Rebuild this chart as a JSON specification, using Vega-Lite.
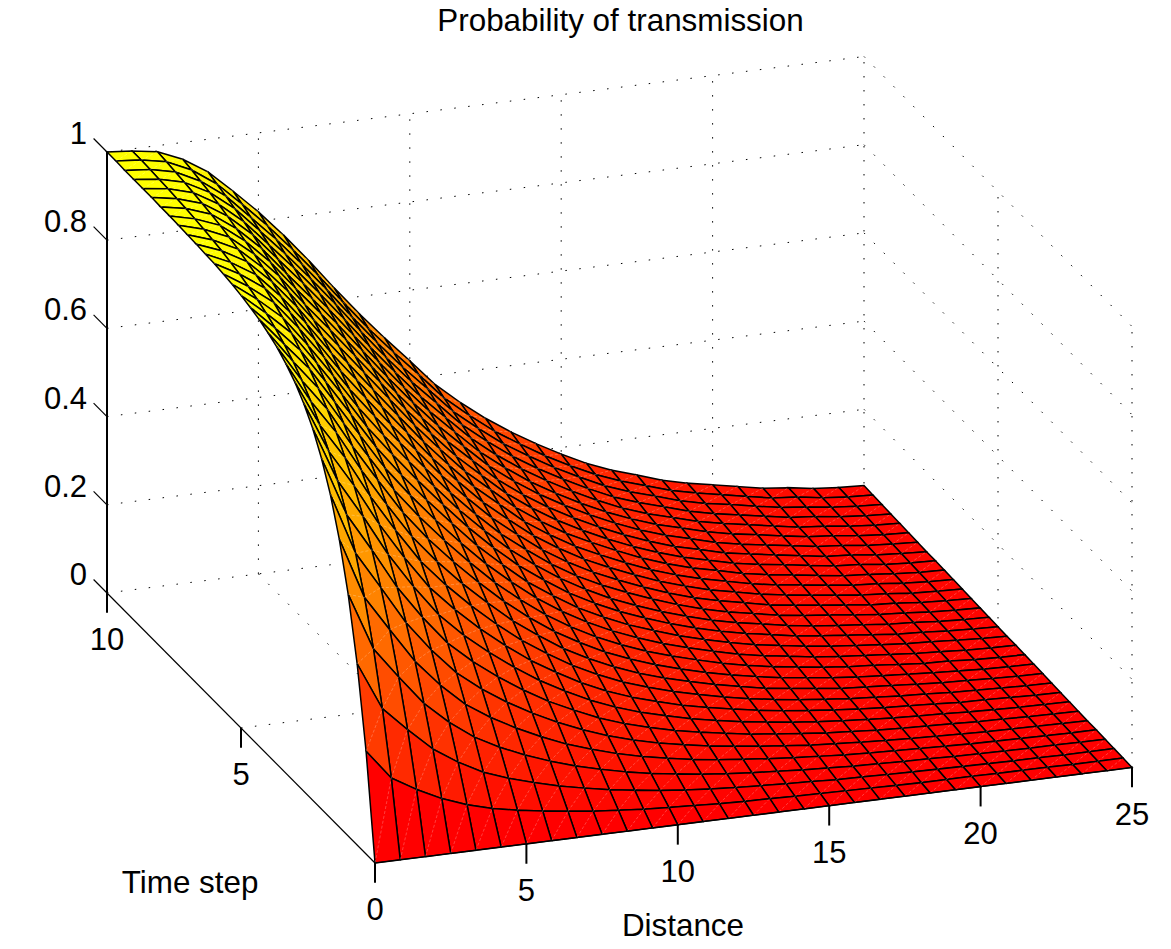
{"$schema":"https://vega.github.io/schema/vega-lite/v6.json","width":1171,"height":949,"padding":0,"autosize":{"type":"none"},"background":"white","view":{"stroke":null},"config":{"view":{"stroke":null}},
"title":{"text":"Probability of transmission","font":"Liberation Sans","fontSize":31.4,"fontWeight":"normal","color":"#000","anchor":"middle","frame":"group","dx":35,"offset":-37},
"datasets":{
"grid":[
{"s":"b0","d":0,"t":10,"p":0},{"s":"b0","d":25,"t":10,"p":0},{"s":"b2","d":0,"t":10,"p":0.2},{"s":"b2","d":25,"t":10,"p":0.2},{"s":"b4","d":0,"t":10,"p":0.4},{"s":"b4","d":25,"t":10,"p":0.4},{"s":"b6","d":0,"t":10,"p":0.6},{"s":"b6","d":25,"t":10,"p":0.6},{"s":"b8","d":0,"t":10,"p":0.8},{"s":"b8","d":25,"t":10,"p":0.8},{"s":"b10","d":0,"t":10,"p":1},{"s":"b10","d":25,"t":10,"p":1},
{"s":"r0","d":25,"t":10,"p":0},{"s":"r0","d":25,"t":0,"p":0},{"s":"r2","d":25,"t":10,"p":0.2},{"s":"r2","d":25,"t":0,"p":0.2},{"s":"r4","d":25,"t":10,"p":0.4},{"s":"r4","d":25,"t":0,"p":0.4},{"s":"r6","d":25,"t":10,"p":0.6},{"s":"r6","d":25,"t":0,"p":0.6},{"s":"r8","d":25,"t":10,"p":0.8},{"s":"r8","d":25,"t":0,"p":0.8},{"s":"r10","d":25,"t":10,"p":1},{"s":"r10","d":25,"t":0,"p":1},
{"s":"v5","d":5,"t":10,"p":0},{"s":"v5","d":5,"t":10,"p":1},{"s":"v10","d":10,"t":10,"p":0},{"s":"v10","d":10,"t":10,"p":1},{"s":"v15","d":15,"t":10,"p":0},{"s":"v15","d":15,"t":10,"p":1},{"s":"v20","d":20,"t":10,"p":0},{"s":"v20","d":20,"t":10,"p":1},{"s":"v25","d":25,"t":10,"p":0},{"s":"v25","d":25,"t":10,"p":1},{"s":"w5","d":25,"t":5,"p":0},{"s":"w5","d":25,"t":5,"p":1},{"s":"w0","d":25,"t":0,"p":0},{"s":"w0","d":25,"t":0,"p":1},
{"s":"f5","d":5,"t":10,"p":0},{"s":"f5","d":5,"t":0,"p":0},{"s":"f10","d":10,"t":10,"p":0},{"s":"f10","d":10,"t":0,"p":0},{"s":"f15","d":15,"t":10,"p":0},{"s":"f15","d":15,"t":0,"p":0},{"s":"f20","d":20,"t":10,"p":0},{"s":"f20","d":20,"t":0,"p":0},{"s":"g5","d":0,"t":5,"p":0},{"s":"g5","d":25,"t":5,"p":0}],
"thin":[
{"s":"ta","d":0,"t":0,"p":0},{"s":"ta","d":0,"t":10.5,"p":0},{"s":"t2","d":0,"t":10,"p":0.2},{"s":"t2","d":0,"t":10.5,"p":0.2},{"s":"t4","d":0,"t":10,"p":0.4},{"s":"t4","d":0,"t":10.5,"p":0.4},{"s":"t6","d":0,"t":10,"p":0.6},{"s":"t6","d":0,"t":10.5,"p":0.6},{"s":"t8","d":0,"t":10,"p":0.8},{"s":"t8","d":0,"t":10.5,"p":0.8},{"s":"t10","d":0,"t":10,"p":1},{"s":"t10","d":0,"t":10.5,"p":1},{"s":"da","d":0,"t":0,"p":0},{"s":"da","d":25,"t":0,"p":0}],
"thick":[
{"s":"pa","d":0,"t":10,"p":1},{"s":"pa","d":0,"t":10,"p":-0.045},{"s":"tk5","d":0,"t":5,"p":0},{"s":"tk5","d":0,"t":5,"p":-0.045},
{"s":"d0","d":0,"t":0,"p":0},{"s":"d0","d":0,"t":0,"p":-0.045},{"s":"d5","d":5,"t":0,"p":0},{"s":"d5","d":5,"t":0,"p":-0.045},{"s":"d10","d":10,"t":0,"p":0},{"s":"d10","d":10,"t":0,"p":-0.045},{"s":"d15","d":15,"t":0,"p":0},{"s":"d15","d":15,"t":0,"p":-0.045},{"s":"d20","d":20,"t":0,"p":0},{"s":"d20","d":20,"t":0,"p":-0.045},{"s":"d25","d":25,"t":0,"p":0},{"s":"d25","d":25,"t":0,"p":-0.045}],
"plabels":[{"label":"0","d":0,"t":10,"p":0},{"label":"0.2","d":0,"t":10,"p":0.2},{"label":"0.4","d":0,"t":10,"p":0.4},{"label":"0.6","d":0,"t":10,"p":0.6},{"label":"0.8","d":0,"t":10,"p":0.8},{"label":"1","d":0,"t":10,"p":1}],
"blabels":[{"label":"5","d":0,"t":5,"p":0},{"label":"10","d":0,"t":10,"p":0},{"label":"0","d":0,"t":0,"p":0},{"label":"5","d":5,"t":0,"p":0},{"label":"10","d":10,"t":0,"p":0},{"label":"15","d":15,"t":0,"p":0},{"label":"20","d":20,"t":0,"p":0},{"label":"25","d":25,"t":0,"p":0}],
"atitles":[{"label":"Time step","d":0,"t":6.9,"p":-0.47},{"label":"Distance","d":10.17,"t":0,"p":-0.2335}],
"mesh":[
{"i":30,"j":30,"p":0.027},{"i":30,"j":29,"p":0.026},{"i":30,"j":28,"p":0.025},{"i":30,"j":27,"p":0.024},{"i":30,"j":26,"p":0.023},{"i":30,"j":25,"p":0.022},{"i":30,"j":24,"p":0.021},{"i":30,"j":23,"p":0.02},{"i":30,"j":22,"p":0.02},{"i":30,"j":21,"p":0.019},{"i":30,"j":20,"p":0.018},{"i":30,"j":19,"p":0.017},{"i":30,"j":18,"p":0.016},{"i":30,"j":17,"p":0.015},{"i":30,"j":16,"p":0.014},{"i":30,"j":15,"p":0.013},{"i":30,"j":14,"p":0.012},{"i":30,"j":13,"p":0.012},{"i":30,"j":12,"p":0.011},{"i":30,"j":11,"p":0.01},{"i":30,"j":10,"p":0.009},{"i":30,"j":9,"p":0.008},{"i":30,"j":8,"p":0.007},{"i":30,"j":7,"p":0.006},{"i":30,"j":6,"p":0.005},{"i":30,"j":5,"p":0.004},{"i":30,"j":4,"p":0.004},{"i":30,"j":3,"p":0.003},{"i":30,"j":2,"p":0.002},{"i":30,"j":1,"p":0.001},{"i":30,"j":0,"p":0},
{"i":29,"j":30,"p":0.03},{"i":29,"j":29,"p":0.029},{"i":29,"j":28,"p":0.028},{"i":29,"j":27,"p":0.027},{"i":29,"j":26,"p":0.026},{"i":29,"j":25,"p":0.025},{"i":29,"j":24,"p":0.024},{"i":29,"j":23,"p":0.023},{"i":29,"j":22,"p":0.022},{"i":29,"j":21,"p":0.021},{"i":29,"j":20,"p":0.02},{"i":29,"j":19,"p":0.019},{"i":29,"j":18,"p":0.018},{"i":29,"j":17,"p":0.017},{"i":29,"j":16,"p":0.016},{"i":29,"j":15,"p":0.015},{"i":29,"j":14,"p":0.014},{"i":29,"j":13,"p":0.013},{"i":29,"j":12,"p":0.012},{"i":29,"j":11,"p":0.011},{"i":29,"j":10,"p":0.01},{"i":29,"j":9,"p":0.009},{"i":29,"j":8,"p":0.008},{"i":29,"j":7,"p":0.007},{"i":29,"j":6,"p":0.006},{"i":29,"j":5,"p":0.005},{"i":29,"j":4,"p":0.004},{"i":29,"j":3,"p":0.003},{"i":29,"j":2,"p":0.002},{"i":29,"j":1,"p":0.001},{"i":29,"j":0,"p":0},
{"i":28,"j":30,"p":0.035},{"i":28,"j":29,"p":0.034},{"i":28,"j":28,"p":0.033},{"i":28,"j":27,"p":0.032},{"i":28,"j":26,"p":0.031},{"i":28,"j":25,"p":0.03},{"i":28,"j":24,"p":0.028},{"i":28,"j":23,"p":0.027},{"i":28,"j":22,"p":0.026},{"i":28,"j":21,"p":0.025},{"i":28,"j":20,"p":0.024},{"i":28,"j":19,"p":0.022},{"i":28,"j":18,"p":0.021},{"i":28,"j":17,"p":0.02},{"i":28,"j":16,"p":0.019},{"i":28,"j":15,"p":0.018},{"i":28,"j":14,"p":0.017},{"i":28,"j":13,"p":0.015},{"i":28,"j":12,"p":0.014},{"i":28,"j":11,"p":0.013},{"i":28,"j":10,"p":0.012},{"i":28,"j":9,"p":0.011},{"i":28,"j":8,"p":0.01},{"i":28,"j":7,"p":0.008},{"i":28,"j":6,"p":0.007},{"i":28,"j":5,"p":0.006},{"i":28,"j":4,"p":0.005},{"i":28,"j":3,"p":0.004},{"i":28,"j":2,"p":0.002},{"i":28,"j":1,"p":0.001},{"i":28,"j":0,"p":0},
{"i":27,"j":30,"p":0.044},{"i":27,"j":29,"p":0.043},{"i":27,"j":28,"p":0.041},{"i":27,"j":27,"p":0.04},{"i":27,"j":26,"p":0.038},{"i":27,"j":25,"p":0.037},{"i":27,"j":24,"p":0.035},{"i":27,"j":23,"p":0.034},{"i":27,"j":22,"p":0.033},{"i":27,"j":21,"p":0.031},{"i":27,"j":20,"p":0.03},{"i":27,"j":19,"p":0.028},{"i":27,"j":18,"p":0.027},{"i":27,"j":17,"p":0.025},{"i":27,"j":16,"p":0.024},{"i":27,"j":15,"p":0.022},{"i":27,"j":14,"p":0.021},{"i":27,"j":13,"p":0.019},{"i":27,"j":12,"p":0.018},{"i":27,"j":11,"p":0.016},{"i":27,"j":10,"p":0.015},{"i":27,"j":9,"p":0.013},{"i":27,"j":8,"p":0.012},{"i":27,"j":7,"p":0.01},{"i":27,"j":6,"p":0.009},{"i":27,"j":5,"p":0.007},{"i":27,"j":4,"p":0.006},{"i":27,"j":3,"p":0.004},{"i":27,"j":2,"p":0.003},{"i":27,"j":1,"p":0.002},{"i":27,"j":0,"p":0},
{"i":26,"j":30,"p":0.05},{"i":26,"j":29,"p":0.048},{"i":26,"j":28,"p":0.047},{"i":26,"j":27,"p":0.045},{"i":26,"j":26,"p":0.043},{"i":26,"j":25,"p":0.042},{"i":26,"j":24,"p":0.04},{"i":26,"j":23,"p":0.038},{"i":26,"j":22,"p":0.037},{"i":26,"j":21,"p":0.035},{"i":26,"j":20,"p":0.034},{"i":26,"j":19,"p":0.032},{"i":26,"j":18,"p":0.03},{"i":26,"j":17,"p":0.029},{"i":26,"j":16,"p":0.027},{"i":26,"j":15,"p":0.025},{"i":26,"j":14,"p":0.024},{"i":26,"j":13,"p":0.022},{"i":26,"j":12,"p":0.02},{"i":26,"j":11,"p":0.019},{"i":26,"j":10,"p":0.017},{"i":26,"j":9,"p":0.015},{"i":26,"j":8,"p":0.013},{"i":26,"j":7,"p":0.012},{"i":26,"j":6,"p":0.01},{"i":26,"j":5,"p":0.008},{"i":26,"j":4,"p":0.007},{"i":26,"j":3,"p":0.005},{"i":26,"j":2,"p":0.003},{"i":26,"j":1,"p":0.002},{"i":26,"j":0,"p":0},
{"i":25,"j":30,"p":0.061},{"i":25,"j":29,"p":0.059},{"i":25,"j":28,"p":0.057},{"i":25,"j":27,"p":0.055},{"i":25,"j":26,"p":0.053},{"i":25,"j":25,"p":0.051},{"i":25,"j":24,"p":0.049},{"i":25,"j":23,"p":0.047},{"i":25,"j":22,"p":0.045},{"i":25,"j":21,"p":0.043},{"i":25,"j":20,"p":0.041},{"i":25,"j":19,"p":0.039},{"i":25,"j":18,"p":0.037},{"i":25,"j":17,"p":0.035},{"i":25,"j":16,"p":0.033},{"i":25,"j":15,"p":0.031},{"i":25,"j":14,"p":0.029},{"i":25,"j":13,"p":0.027},{"i":25,"j":12,"p":0.025},{"i":25,"j":11,"p":0.023},{"i":25,"j":10,"p":0.021},{"i":25,"j":9,"p":0.019},{"i":25,"j":8,"p":0.017},{"i":25,"j":7,"p":0.015},{"i":25,"j":6,"p":0.013},{"i":25,"j":5,"p":0.01},{"i":25,"j":4,"p":0.008},{"i":25,"j":3,"p":0.006},{"i":25,"j":2,"p":0.004},{"i":25,"j":1,"p":0.002},{"i":25,"j":0,"p":0},
{"i":24,"j":30,"p":0.072},{"i":24,"j":29,"p":0.07},{"i":24,"j":28,"p":0.068},{"i":24,"j":27,"p":0.065},{"i":24,"j":26,"p":0.063},{"i":24,"j":25,"p":0.061},{"i":24,"j":24,"p":0.058},{"i":24,"j":23,"p":0.056},{"i":24,"j":22,"p":0.054},{"i":24,"j":21,"p":0.051},{"i":24,"j":20,"p":0.049},{"i":24,"j":19,"p":0.046},{"i":24,"j":18,"p":0.044},{"i":24,"j":17,"p":0.042},{"i":24,"j":16,"p":0.039},{"i":24,"j":15,"p":0.037},{"i":24,"j":14,"p":0.034},{"i":24,"j":13,"p":0.032},{"i":24,"j":12,"p":0.03},{"i":24,"j":11,"p":0.027},{"i":24,"j":10,"p":0.025},{"i":24,"j":9,"p":0.022},{"i":24,"j":8,"p":0.02},{"i":24,"j":7,"p":0.017},{"i":24,"j":6,"p":0.015},{"i":24,"j":5,"p":0.012},{"i":24,"j":4,"p":0.01},{"i":24,"j":3,"p":0.007},{"i":24,"j":2,"p":0.005},{"i":24,"j":1,"p":0.003},{"i":24,"j":0,"p":0},
{"i":23,"j":30,"p":0.083},{"i":23,"j":29,"p":0.081},{"i":23,"j":28,"p":0.078},{"i":23,"j":27,"p":0.075},{"i":23,"j":26,"p":0.073},{"i":23,"j":25,"p":0.07},{"i":23,"j":24,"p":0.067},{"i":23,"j":23,"p":0.065},{"i":23,"j":22,"p":0.062},{"i":23,"j":21,"p":0.059},{"i":23,"j":20,"p":0.056},{"i":23,"j":19,"p":0.054},{"i":23,"j":18,"p":0.051},{"i":23,"j":17,"p":0.048},{"i":23,"j":16,"p":0.045},{"i":23,"j":15,"p":0.043},{"i":23,"j":14,"p":0.04},{"i":23,"j":13,"p":0.037},{"i":23,"j":12,"p":0.034},{"i":23,"j":11,"p":0.031},{"i":23,"j":10,"p":0.029},{"i":23,"j":9,"p":0.026},{"i":23,"j":8,"p":0.023},{"i":23,"j":7,"p":0.02},{"i":23,"j":6,"p":0.017},{"i":23,"j":5,"p":0.014},{"i":23,"j":4,"p":0.012},{"i":23,"j":3,"p":0.009},{"i":23,"j":2,"p":0.006},{"i":23,"j":1,"p":0.003},{"i":23,"j":0,"p":0},
{"i":22,"j":30,"p":0.097},{"i":22,"j":29,"p":0.094},{"i":22,"j":28,"p":0.091},{"i":22,"j":27,"p":0.088},{"i":22,"j":26,"p":0.085},{"i":22,"j":25,"p":0.082},{"i":22,"j":24,"p":0.078},{"i":22,"j":23,"p":0.075},{"i":22,"j":22,"p":0.072},{"i":22,"j":21,"p":0.069},{"i":22,"j":20,"p":0.066},{"i":22,"j":19,"p":0.063},{"i":22,"j":18,"p":0.059},{"i":22,"j":17,"p":0.056},{"i":22,"j":16,"p":0.053},{"i":22,"j":15,"p":0.05},{"i":22,"j":14,"p":0.047},{"i":22,"j":13,"p":0.043},{"i":22,"j":12,"p":0.04},{"i":22,"j":11,"p":0.037},{"i":22,"j":10,"p":0.033},{"i":22,"j":9,"p":0.03},{"i":22,"j":8,"p":0.027},{"i":22,"j":7,"p":0.024},{"i":22,"j":6,"p":0.02},{"i":22,"j":5,"p":0.017},{"i":22,"j":4,"p":0.014},{"i":22,"j":3,"p":0.01},{"i":22,"j":2,"p":0.007},{"i":22,"j":1,"p":0.003},{"i":22,"j":0,"p":0},
{"i":21,"j":30,"p":0.116},{"i":21,"j":29,"p":0.112},{"i":21,"j":28,"p":0.109},{"i":21,"j":27,"p":0.105},{"i":21,"j":26,"p":0.101},{"i":21,"j":25,"p":0.098},{"i":21,"j":24,"p":0.094},{"i":21,"j":23,"p":0.09},{"i":21,"j":22,"p":0.086},{"i":21,"j":21,"p":0.083},{"i":21,"j":20,"p":0.079},{"i":21,"j":19,"p":0.075},{"i":21,"j":18,"p":0.071},{"i":21,"j":17,"p":0.067},{"i":21,"j":16,"p":0.064},{"i":21,"j":15,"p":0.06},{"i":21,"j":14,"p":0.056},{"i":21,"j":13,"p":0.052},{"i":21,"j":12,"p":0.048},{"i":21,"j":11,"p":0.044},{"i":21,"j":10,"p":0.04},{"i":21,"j":9,"p":0.036},{"i":21,"j":8,"p":0.032},{"i":21,"j":7,"p":0.028},{"i":21,"j":6,"p":0.024},{"i":21,"j":5,"p":0.02},{"i":21,"j":4,"p":0.016},{"i":21,"j":3,"p":0.012},{"i":21,"j":2,"p":0.008},{"i":21,"j":1,"p":0.004},{"i":21,"j":0,"p":0},
{"i":20,"j":30,"p":0.134},{"i":20,"j":29,"p":0.13},{"i":20,"j":28,"p":0.126},{"i":20,"j":27,"p":0.122},{"i":20,"j":26,"p":0.117},{"i":20,"j":25,"p":0.113},{"i":20,"j":24,"p":0.109},{"i":20,"j":23,"p":0.104},{"i":20,"j":22,"p":0.1},{"i":20,"j":21,"p":0.096},{"i":20,"j":20,"p":0.092},{"i":20,"j":19,"p":0.087},{"i":20,"j":18,"p":0.083},{"i":20,"j":17,"p":0.078},{"i":20,"j":16,"p":0.074},{"i":20,"j":15,"p":0.07},{"i":20,"j":14,"p":0.065},{"i":20,"j":13,"p":0.06},{"i":20,"j":12,"p":0.056},{"i":20,"j":11,"p":0.051},{"i":20,"j":10,"p":0.047},{"i":20,"j":9,"p":0.042},{"i":20,"j":8,"p":0.038},{"i":20,"j":7,"p":0.033},{"i":20,"j":6,"p":0.028},{"i":20,"j":5,"p":0.024},{"i":20,"j":4,"p":0.019},{"i":20,"j":3,"p":0.014},{"i":20,"j":2,"p":0.01},{"i":20,"j":1,"p":0.005},{"i":20,"j":0,"p":0},
{"i":19,"j":30,"p":0.157},{"i":19,"j":29,"p":0.152},{"i":19,"j":28,"p":0.147},{"i":19,"j":27,"p":0.142},{"i":19,"j":26,"p":0.137},{"i":19,"j":25,"p":0.133},{"i":19,"j":24,"p":0.128},{"i":19,"j":23,"p":0.123},{"i":19,"j":22,"p":0.118},{"i":19,"j":21,"p":0.113},{"i":19,"j":20,"p":0.108},{"i":19,"j":19,"p":0.103},{"i":19,"j":18,"p":0.097},{"i":19,"j":17,"p":0.092},{"i":19,"j":16,"p":0.087},{"i":19,"j":15,"p":0.082},{"i":19,"j":14,"p":0.077},{"i":19,"j":13,"p":0.071},{"i":19,"j":12,"p":0.066},{"i":19,"j":11,"p":0.061},{"i":19,"j":10,"p":0.055},{"i":19,"j":9,"p":0.05},{"i":19,"j":8,"p":0.045},{"i":19,"j":7,"p":0.039},{"i":19,"j":6,"p":0.034},{"i":19,"j":5,"p":0.028},{"i":19,"j":4,"p":0.023},{"i":19,"j":3,"p":0.017},{"i":19,"j":2,"p":0.011},{"i":19,"j":1,"p":0.006},{"i":19,"j":0,"p":0},
{"i":18,"j":30,"p":0.185},{"i":18,"j":29,"p":0.179},{"i":18,"j":28,"p":0.174},{"i":18,"j":27,"p":0.168},{"i":18,"j":26,"p":0.162},{"i":18,"j":25,"p":0.156},{"i":18,"j":24,"p":0.151},{"i":18,"j":23,"p":0.145},{"i":18,"j":22,"p":0.139},{"i":18,"j":21,"p":0.133},{"i":18,"j":20,"p":0.127},{"i":18,"j":19,"p":0.121},{"i":18,"j":18,"p":0.115},{"i":18,"j":17,"p":0.109},{"i":18,"j":16,"p":0.103},{"i":18,"j":15,"p":0.097},{"i":18,"j":14,"p":0.091},{"i":18,"j":13,"p":0.085},{"i":18,"j":12,"p":0.078},{"i":18,"j":11,"p":0.072},{"i":18,"j":10,"p":0.066},{"i":18,"j":9,"p":0.059},{"i":18,"j":8,"p":0.053},{"i":18,"j":7,"p":0.047},{"i":18,"j":6,"p":0.04},{"i":18,"j":5,"p":0.034},{"i":18,"j":4,"p":0.027},{"i":18,"j":3,"p":0.02},{"i":18,"j":2,"p":0.014},{"i":18,"j":1,"p":0.007},{"i":18,"j":0,"p":0},
{"i":17,"j":30,"p":0.216},{"i":17,"j":29,"p":0.209},{"i":17,"j":28,"p":0.203},{"i":17,"j":27,"p":0.197},{"i":17,"j":26,"p":0.19},{"i":17,"j":25,"p":0.183},{"i":17,"j":24,"p":0.177},{"i":17,"j":23,"p":0.17},{"i":17,"j":22,"p":0.163},{"i":17,"j":21,"p":0.157},{"i":17,"j":20,"p":0.15},{"i":17,"j":19,"p":0.143},{"i":17,"j":18,"p":0.136},{"i":17,"j":17,"p":0.129},{"i":17,"j":16,"p":0.121},{"i":17,"j":15,"p":0.114},{"i":17,"j":14,"p":0.107},{"i":17,"j":13,"p":0.1},{"i":17,"j":12,"p":0.093},{"i":17,"j":11,"p":0.085},{"i":17,"j":10,"p":0.078},{"i":17,"j":9,"p":0.07},{"i":17,"j":8,"p":0.063},{"i":17,"j":7,"p":0.055},{"i":17,"j":6,"p":0.047},{"i":17,"j":5,"p":0.04},{"i":17,"j":4,"p":0.032},{"i":17,"j":3,"p":0.024},{"i":17,"j":2,"p":0.016},{"i":17,"j":1,"p":0.008},{"i":17,"j":0,"p":0},
{"i":16,"j":30,"p":0.25},{"i":16,"j":29,"p":0.243},{"i":16,"j":28,"p":0.236},{"i":16,"j":27,"p":0.228},{"i":16,"j":26,"p":0.221},{"i":16,"j":25,"p":0.213},{"i":16,"j":24,"p":0.206},{"i":16,"j":23,"p":0.198},{"i":16,"j":22,"p":0.19},{"i":16,"j":21,"p":0.183},{"i":16,"j":20,"p":0.175},{"i":16,"j":19,"p":0.167},{"i":16,"j":18,"p":0.159},{"i":16,"j":17,"p":0.151},{"i":16,"j":16,"p":0.142},{"i":16,"j":15,"p":0.134},{"i":16,"j":14,"p":0.126},{"i":16,"j":13,"p":0.117},{"i":16,"j":12,"p":0.109},{"i":16,"j":11,"p":0.1},{"i":16,"j":10,"p":0.092},{"i":16,"j":9,"p":0.083},{"i":16,"j":8,"p":0.074},{"i":16,"j":7,"p":0.065},{"i":16,"j":6,"p":0.056},{"i":16,"j":5,"p":0.047},{"i":16,"j":4,"p":0.038},{"i":16,"j":3,"p":0.028},{"i":16,"j":2,"p":0.019},{"i":16,"j":1,"p":0.01},{"i":16,"j":0,"p":0},
{"i":15,"j":30,"p":0.288},{"i":15,"j":29,"p":0.279},{"i":15,"j":28,"p":0.271},{"i":15,"j":27,"p":0.263},{"i":15,"j":26,"p":0.255},{"i":15,"j":25,"p":0.246},{"i":15,"j":24,"p":0.238},{"i":15,"j":23,"p":0.229},{"i":15,"j":22,"p":0.22},{"i":15,"j":21,"p":0.211},{"i":15,"j":20,"p":0.202},{"i":15,"j":19,"p":0.193},{"i":15,"j":18,"p":0.184},{"i":15,"j":17,"p":0.175},{"i":15,"j":16,"p":0.165},{"i":15,"j":15,"p":0.156},{"i":15,"j":14,"p":0.146},{"i":15,"j":13,"p":0.137},{"i":15,"j":12,"p":0.127},{"i":15,"j":11,"p":0.117},{"i":15,"j":10,"p":0.107},{"i":15,"j":9,"p":0.097},{"i":15,"j":8,"p":0.086},{"i":15,"j":7,"p":0.076},{"i":15,"j":6,"p":0.066},{"i":15,"j":5,"p":0.055},{"i":15,"j":4,"p":0.044},{"i":15,"j":3,"p":0.033},{"i":15,"j":2,"p":0.022},{"i":15,"j":1,"p":0.011},{"i":15,"j":0,"p":0},
{"i":14,"j":30,"p":0.331},{"i":14,"j":29,"p":0.322},{"i":14,"j":28,"p":0.313},{"i":14,"j":27,"p":0.304},{"i":14,"j":26,"p":0.294},{"i":14,"j":25,"p":0.285},{"i":14,"j":24,"p":0.275},{"i":14,"j":23,"p":0.265},{"i":14,"j":22,"p":0.255},{"i":14,"j":21,"p":0.245},{"i":14,"j":20,"p":0.235},{"i":14,"j":19,"p":0.225},{"i":14,"j":18,"p":0.214},{"i":14,"j":17,"p":0.203},{"i":14,"j":16,"p":0.193},{"i":14,"j":15,"p":0.182},{"i":14,"j":14,"p":0.171},{"i":14,"j":13,"p":0.16},{"i":14,"j":12,"p":0.149},{"i":14,"j":11,"p":0.137},{"i":14,"j":10,"p":0.125},{"i":14,"j":9,"p":0.114},{"i":14,"j":8,"p":0.102},{"i":14,"j":7,"p":0.09},{"i":14,"j":6,"p":0.077},{"i":14,"j":5,"p":0.065},{"i":14,"j":4,"p":0.052},{"i":14,"j":3,"p":0.039},{"i":14,"j":2,"p":0.026},{"i":14,"j":1,"p":0.013},{"i":14,"j":0,"p":0},
{"i":13,"j":30,"p":0.379},{"i":13,"j":29,"p":0.369},{"i":13,"j":28,"p":0.359},{"i":13,"j":27,"p":0.349},{"i":13,"j":26,"p":0.339},{"i":13,"j":25,"p":0.328},{"i":13,"j":24,"p":0.317},{"i":13,"j":23,"p":0.306},{"i":13,"j":22,"p":0.295},{"i":13,"j":21,"p":0.284},{"i":13,"j":20,"p":0.272},{"i":13,"j":19,"p":0.261},{"i":13,"j":18,"p":0.249},{"i":13,"j":17,"p":0.237},{"i":13,"j":16,"p":0.225},{"i":13,"j":15,"p":0.212},{"i":13,"j":14,"p":0.199},{"i":13,"j":13,"p":0.187},{"i":13,"j":12,"p":0.174},{"i":13,"j":11,"p":0.16},{"i":13,"j":10,"p":0.147},{"i":13,"j":9,"p":0.133},{"i":13,"j":8,"p":0.119},{"i":13,"j":7,"p":0.105},{"i":13,"j":6,"p":0.091},{"i":13,"j":5,"p":0.076},{"i":13,"j":4,"p":0.062},{"i":13,"j":3,"p":0.047},{"i":13,"j":2,"p":0.031},{"i":13,"j":1,"p":0.016},{"i":13,"j":0,"p":0},
{"i":12,"j":30,"p":0.44},{"i":12,"j":29,"p":0.429},{"i":12,"j":28,"p":0.417},{"i":12,"j":27,"p":0.405},{"i":12,"j":26,"p":0.393},{"i":12,"j":25,"p":0.381},{"i":12,"j":24,"p":0.369},{"i":12,"j":23,"p":0.357},{"i":12,"j":22,"p":0.344},{"i":12,"j":21,"p":0.332},{"i":12,"j":20,"p":0.319},{"i":12,"j":19,"p":0.305},{"i":12,"j":18,"p":0.291},{"i":12,"j":17,"p":0.277},{"i":12,"j":16,"p":0.263},{"i":12,"j":15,"p":0.249},{"i":12,"j":14,"p":0.234},{"i":12,"j":13,"p":0.219},{"i":12,"j":12,"p":0.204},{"i":12,"j":11,"p":0.189},{"i":12,"j":10,"p":0.173},{"i":12,"j":9,"p":0.157},{"i":12,"j":8,"p":0.14},{"i":12,"j":7,"p":0.124},{"i":12,"j":6,"p":0.107},{"i":12,"j":5,"p":0.09},{"i":12,"j":4,"p":0.073},{"i":12,"j":3,"p":0.055},{"i":12,"j":2,"p":0.037},{"i":12,"j":1,"p":0.019},{"i":12,"j":0,"p":0},
{"i":11,"j":30,"p":0.499},{"i":11,"j":29,"p":0.487},{"i":11,"j":28,"p":0.474},{"i":11,"j":27,"p":0.461},{"i":11,"j":26,"p":0.448},{"i":11,"j":25,"p":0.435},{"i":11,"j":24,"p":0.422},{"i":11,"j":23,"p":0.408},{"i":11,"j":22,"p":0.394},{"i":11,"j":21,"p":0.38},{"i":11,"j":20,"p":0.366},{"i":11,"j":19,"p":0.351},{"i":11,"j":18,"p":0.336},{"i":11,"j":17,"p":0.32},{"i":11,"j":16,"p":0.305},{"i":11,"j":15,"p":0.289},{"i":11,"j":14,"p":0.272},{"i":11,"j":13,"p":0.256},{"i":11,"j":12,"p":0.239},{"i":11,"j":11,"p":0.221},{"i":11,"j":10,"p":0.203},{"i":11,"j":9,"p":0.185},{"i":11,"j":8,"p":0.166},{"i":11,"j":7,"p":0.147},{"i":11,"j":6,"p":0.127},{"i":11,"j":5,"p":0.107},{"i":11,"j":4,"p":0.087},{"i":11,"j":3,"p":0.066},{"i":11,"j":2,"p":0.045},{"i":11,"j":1,"p":0.022},{"i":11,"j":0,"p":0},
{"i":10,"j":30,"p":0.561},{"i":10,"j":29,"p":0.548},{"i":10,"j":28,"p":0.536},{"i":10,"j":27,"p":0.523},{"i":10,"j":26,"p":0.51},{"i":10,"j":25,"p":0.496},{"i":10,"j":24,"p":0.482},{"i":10,"j":23,"p":0.468},{"i":10,"j":22,"p":0.453},{"i":10,"j":21,"p":0.438},{"i":10,"j":20,"p":0.422},{"i":10,"j":19,"p":0.406},{"i":10,"j":18,"p":0.389},{"i":10,"j":17,"p":0.372},{"i":10,"j":16,"p":0.355},{"i":10,"j":15,"p":0.337},{"i":10,"j":14,"p":0.319},{"i":10,"j":13,"p":0.3},{"i":10,"j":12,"p":0.28},{"i":10,"j":11,"p":0.26},{"i":10,"j":10,"p":0.24},{"i":10,"j":9,"p":0.219},{"i":10,"j":8,"p":0.197},{"i":10,"j":7,"p":0.175},{"i":10,"j":6,"p":0.152},{"i":10,"j":5,"p":0.128},{"i":10,"j":4,"p":0.104},{"i":10,"j":3,"p":0.079},{"i":10,"j":2,"p":0.053},{"i":10,"j":1,"p":0.027},{"i":10,"j":0,"p":0},
{"i":9,"j":30,"p":0.627},{"i":9,"j":29,"p":0.615},{"i":9,"j":28,"p":0.602},{"i":9,"j":27,"p":0.589},{"i":9,"j":26,"p":0.575},{"i":9,"j":25,"p":0.561},{"i":9,"j":24,"p":0.546},{"i":9,"j":23,"p":0.531},{"i":9,"j":22,"p":0.515},{"i":9,"j":21,"p":0.499},{"i":9,"j":20,"p":0.482},{"i":9,"j":19,"p":0.465},{"i":9,"j":18,"p":0.447},{"i":9,"j":17,"p":0.428},{"i":9,"j":16,"p":0.409},{"i":9,"j":15,"p":0.39},{"i":9,"j":14,"p":0.369},{"i":9,"j":13,"p":0.348},{"i":9,"j":12,"p":0.326},{"i":9,"j":11,"p":0.304},{"i":9,"j":10,"p":0.28},{"i":9,"j":9,"p":0.256},{"i":9,"j":8,"p":0.231},{"i":9,"j":7,"p":0.206},{"i":9,"j":6,"p":0.179},{"i":9,"j":5,"p":0.152},{"i":9,"j":4,"p":0.123},{"i":9,"j":3,"p":0.094},{"i":9,"j":2,"p":0.064},{"i":9,"j":1,"p":0.032},{"i":9,"j":0,"p":0},
{"i":8,"j":30,"p":0.696},{"i":8,"j":29,"p":0.684},{"i":8,"j":28,"p":0.671},{"i":8,"j":27,"p":0.658},{"i":8,"j":26,"p":0.644},{"i":8,"j":25,"p":0.629},{"i":8,"j":24,"p":0.614},{"i":8,"j":23,"p":0.599},{"i":8,"j":22,"p":0.583},{"i":8,"j":21,"p":0.566},{"i":8,"j":20,"p":0.548},{"i":8,"j":19,"p":0.53},{"i":8,"j":18,"p":0.511},{"i":8,"j":17,"p":0.491},{"i":8,"j":16,"p":0.47},{"i":8,"j":15,"p":0.449},{"i":8,"j":14,"p":0.427},{"i":8,"j":13,"p":0.403},{"i":8,"j":12,"p":0.379},{"i":8,"j":11,"p":0.354},{"i":8,"j":10,"p":0.328},{"i":8,"j":9,"p":0.3},{"i":8,"j":8,"p":0.272},{"i":8,"j":7,"p":0.243},{"i":8,"j":6,"p":0.212},{"i":8,"j":5,"p":0.18},{"i":8,"j":4,"p":0.147},{"i":8,"j":3,"p":0.112},{"i":8,"j":2,"p":0.076},{"i":8,"j":1,"p":0.039},{"i":8,"j":0,"p":0},
{"i":7,"j":30,"p":0.761},{"i":7,"j":29,"p":0.749},{"i":7,"j":28,"p":0.737},{"i":7,"j":27,"p":0.724},{"i":7,"j":26,"p":0.711},{"i":7,"j":25,"p":0.696},{"i":7,"j":24,"p":0.682},{"i":7,"j":23,"p":0.666},{"i":7,"j":22,"p":0.65},{"i":7,"j":21,"p":0.633},{"i":7,"j":20,"p":0.615},{"i":7,"j":19,"p":0.596},{"i":7,"j":18,"p":0.576},{"i":7,"j":17,"p":0.556},{"i":7,"j":16,"p":0.534},{"i":7,"j":15,"p":0.511},{"i":7,"j":14,"p":0.487},{"i":7,"j":13,"p":0.462},{"i":7,"j":12,"p":0.436},{"i":7,"j":11,"p":0.408},{"i":7,"j":10,"p":0.379},{"i":7,"j":9,"p":0.349},{"i":7,"j":8,"p":0.317},{"i":7,"j":7,"p":0.284},{"i":7,"j":6,"p":0.249},{"i":7,"j":5,"p":0.212},{"i":7,"j":4,"p":0.174},{"i":7,"j":3,"p":0.133},{"i":7,"j":2,"p":0.091},{"i":7,"j":1,"p":0.047},{"i":7,"j":0,"p":0},
{"i":6,"j":30,"p":0.821},{"i":6,"j":29,"p":0.81},{"i":6,"j":28,"p":0.799},{"i":6,"j":27,"p":0.787},{"i":6,"j":26,"p":0.775},{"i":6,"j":25,"p":0.761},{"i":6,"j":24,"p":0.747},{"i":6,"j":23,"p":0.733},{"i":6,"j":22,"p":0.717},{"i":6,"j":21,"p":0.7},{"i":6,"j":20,"p":0.682},{"i":6,"j":19,"p":0.664},{"i":6,"j":18,"p":0.644},{"i":6,"j":17,"p":0.623},{"i":6,"j":16,"p":0.6},{"i":6,"j":15,"p":0.577},{"i":6,"j":14,"p":0.551},{"i":6,"j":13,"p":0.525},{"i":6,"j":12,"p":0.497},{"i":6,"j":11,"p":0.467},{"i":6,"j":10,"p":0.436},{"i":6,"j":9,"p":0.403},{"i":6,"j":8,"p":0.368},{"i":6,"j":7,"p":0.33},{"i":6,"j":6,"p":0.291},{"i":6,"j":5,"p":0.249},{"i":6,"j":4,"p":0.205},{"i":6,"j":3,"p":0.158},{"i":6,"j":2,"p":0.108},{"i":6,"j":1,"p":0.056},{"i":6,"j":0,"p":0},
{"i":5,"j":30,"p":0.875},{"i":5,"j":29,"p":0.866},{"i":5,"j":28,"p":0.856},{"i":5,"j":27,"p":0.846},{"i":5,"j":26,"p":0.835},{"i":5,"j":25,"p":0.823},{"i":5,"j":24,"p":0.81},{"i":5,"j":23,"p":0.797},{"i":5,"j":22,"p":0.782},{"i":5,"j":21,"p":0.767},{"i":5,"j":20,"p":0.75},{"i":5,"j":19,"p":0.732},{"i":5,"j":18,"p":0.713},{"i":5,"j":17,"p":0.692},{"i":5,"j":16,"p":0.67},{"i":5,"j":15,"p":0.646},{"i":5,"j":14,"p":0.621},{"i":5,"j":13,"p":0.594},{"i":5,"j":12,"p":0.565},{"i":5,"j":11,"p":0.534},{"i":5,"j":10,"p":0.5},{"i":5,"j":9,"p":0.464},{"i":5,"j":8,"p":0.425},{"i":5,"j":7,"p":0.384},{"i":5,"j":6,"p":0.34},{"i":5,"j":5,"p":0.293},{"i":5,"j":4,"p":0.242},{"i":5,"j":3,"p":0.188},{"i":5,"j":2,"p":0.129},{"i":5,"j":1,"p":0.067},{"i":5,"j":0,"p":0},
{"i":4,"j":30,"p":0.926},{"i":4,"j":29,"p":0.919},{"i":4,"j":28,"p":0.912},{"i":4,"j":27,"p":0.904},{"i":4,"j":26,"p":0.895},{"i":4,"j":25,"p":0.886},{"i":4,"j":24,"p":0.875},{"i":4,"j":23,"p":0.864},{"i":4,"j":22,"p":0.852},{"i":4,"j":21,"p":0.838},{"i":4,"j":20,"p":0.823},{"i":4,"j":19,"p":0.807},{"i":4,"j":18,"p":0.79},{"i":4,"j":17,"p":0.771},{"i":4,"j":16,"p":0.75},{"i":4,"j":15,"p":0.728},{"i":4,"j":14,"p":0.703},{"i":4,"j":13,"p":0.676},{"i":4,"j":12,"p":0.647},{"i":4,"j":11,"p":0.615},{"i":4,"j":10,"p":0.58},{"i":4,"j":9,"p":0.542},{"i":4,"j":8,"p":0.5},{"i":4,"j":7,"p":0.455},{"i":4,"j":6,"p":0.406},{"i":4,"j":5,"p":0.352},{"i":4,"j":4,"p":0.293},{"i":4,"j":3,"p":0.229},{"i":4,"j":2,"p":0.159},{"i":4,"j":1,"p":0.083},{"i":4,"j":0,"p":0},
{"i":3,"j":30,"p":0.962},{"i":3,"j":29,"p":0.958},{"i":3,"j":28,"p":0.953},{"i":3,"j":27,"p":0.948},{"i":3,"j":26,"p":0.942},{"i":3,"j":25,"p":0.935},{"i":3,"j":24,"p":0.927},{"i":3,"j":23,"p":0.919},{"i":3,"j":22,"p":0.91},{"i":3,"j":21,"p":0.899},{"i":3,"j":20,"p":0.888},{"i":3,"j":19,"p":0.875},{"i":3,"j":18,"p":0.86},{"i":3,"j":17,"p":0.844},{"i":3,"j":16,"p":0.826},{"i":3,"j":15,"p":0.806},{"i":3,"j":14,"p":0.784},{"i":3,"j":13,"p":0.759},{"i":3,"j":12,"p":0.731},{"i":3,"j":11,"p":0.699},{"i":3,"j":10,"p":0.665},{"i":3,"j":9,"p":0.626},{"i":3,"j":8,"p":0.583},{"i":3,"j":7,"p":0.535},{"i":3,"j":6,"p":0.481},{"i":3,"j":5,"p":0.421},{"i":3,"j":4,"p":0.354},{"i":3,"j":3,"p":0.279},{"i":3,"j":2,"p":0.196},{"i":3,"j":1,"p":0.104},{"i":3,"j":0,"p":0},
{"i":2,"j":30,"p":0.986},{"i":2,"j":29,"p":0.984},{"i":2,"j":28,"p":0.981},{"i":2,"j":27,"p":0.978},{"i":2,"j":26,"p":0.975},{"i":2,"j":25,"p":0.971},{"i":2,"j":24,"p":0.967},{"i":2,"j":23,"p":0.962},{"i":2,"j":22,"p":0.956},{"i":2,"j":21,"p":0.949},{"i":2,"j":20,"p":0.941},{"i":2,"j":19,"p":0.932},{"i":2,"j":18,"p":0.922},{"i":2,"j":17,"p":0.91},{"i":2,"j":16,"p":0.896},{"i":2,"j":15,"p":0.881},{"i":2,"j":14,"p":0.862},{"i":2,"j":13,"p":0.841},{"i":2,"j":12,"p":0.817},{"i":2,"j":11,"p":0.79},{"i":2,"j":10,"p":0.758},{"i":2,"j":9,"p":0.721},{"i":2,"j":8,"p":0.678},{"i":2,"j":7,"p":0.629},{"i":2,"j":6,"p":0.573},{"i":2,"j":5,"p":0.508},{"i":2,"j":4,"p":0.433},{"i":2,"j":3,"p":0.346},{"i":2,"j":2,"p":0.247},{"i":2,"j":1,"p":0.132},{"i":2,"j":0,"p":0},
{"i":1,"j":30,"p":0.995},{"i":1,"j":29,"p":0.995},{"i":1,"j":28,"p":0.994},{"i":1,"j":27,"p":0.992},{"i":1,"j":26,"p":0.991},{"i":1,"j":25,"p":0.989},{"i":1,"j":24,"p":0.987},{"i":1,"j":23,"p":0.984},{"i":1,"j":22,"p":0.981},{"i":1,"j":21,"p":0.977},{"i":1,"j":20,"p":0.973},{"i":1,"j":19,"p":0.967},{"i":1,"j":18,"p":0.961},{"i":1,"j":17,"p":0.953},{"i":1,"j":16,"p":0.944},{"i":1,"j":15,"p":0.933},{"i":1,"j":14,"p":0.92},{"i":1,"j":13,"p":0.904},{"i":1,"j":12,"p":0.885},{"i":1,"j":11,"p":0.862},{"i":1,"j":10,"p":0.835},{"i":1,"j":9,"p":0.802},{"i":1,"j":8,"p":0.763},{"i":1,"j":7,"p":0.716},{"i":1,"j":6,"p":0.66},{"i":1,"j":5,"p":0.593},{"i":1,"j":4,"p":0.513},{"i":1,"j":3,"p":0.417},{"i":1,"j":2,"p":0.302},{"i":1,"j":1,"p":0.165},{"i":1,"j":0,"p":0},
{"i":0,"j":30,"p":1},{"i":0,"j":29,"p":1},{"i":0,"j":28,"p":0.999},{"i":0,"j":27,"p":0.999},{"i":0,"j":26,"p":0.999},{"i":0,"j":25,"p":0.999},{"i":0,"j":24,"p":0.998},{"i":0,"j":23,"p":0.998},{"i":0,"j":22,"p":0.997},{"i":0,"j":21,"p":0.996},{"i":0,"j":20,"p":0.995},{"i":0,"j":19,"p":0.993},{"i":0,"j":18,"p":0.992},{"i":0,"j":17,"p":0.989},{"i":0,"j":16,"p":0.986},{"i":0,"j":15,"p":0.981},{"i":0,"j":14,"p":0.975},{"i":0,"j":13,"p":0.968},{"i":0,"j":12,"p":0.958},{"i":0,"j":11,"p":0.946},{"i":0,"j":10,"p":0.929},{"i":0,"j":9,"p":0.908},{"i":0,"j":8,"p":0.88},{"i":0,"j":7,"p":0.844},{"i":0,"j":6,"p":0.796},{"i":0,"j":5,"p":0.734},{"i":0,"j":4,"p":0.653},{"i":0,"j":3,"p":0.548},{"i":0,"j":2,"p":0.411},{"i":0,"j":1,"p":0.233},{"i":0,"j":0,"p":0}
]},
"layer":[
{"data":{"name":"grid"},"transform":[{"calculate":"375+30.28*datum.d-26.8*datum.t","as":"x"},{"calculate":"863-3.82*datum.d-27*datum.t-441*datum.p","as":"y"}],
"mark":{"type":"line","stroke":"#000","strokeWidth":1,"strokeDash":[1.5,12.5]},
"encoding":{"x":{"field":"x","type":"quantitative","scale":{"domain":[0,1171],"nice":false,"zero":false},"axis":null},"y":{"field":"y","type":"quantitative","scale":{"domain":[949,0],"nice":false,"zero":false},"axis":null},"detail":{"field":"s","type":"nominal"}}},
{"data":{"name":"mesh"},"transform":[{"calculate":"[0,1,2,3,4]","as":"cs"},{"flatten":["cs"],"as":["c"]},{"calculate":"datum.i-((datum.c==1||datum.c==2)?1:0)","as":"qi"},{"calculate":"datum.j-((datum.c==2||datum.c==3)?1:0)","as":"qj"},{"filter":"datum.qi>=0&&datum.qi<30&&datum.qj>=0&&datum.qj<30"},{"calculate":"datum.qi*100+datum.qj","as":"q"},{"calculate":"datum.c==0?datum.p:0","as":"fc"},{"joinaggregate":[{"op":"max","field":"fc","as":"v"}],"groupby":["q"]},{"calculate":"375+30.28*datum.i*25/30-26.8*datum.j/3","as":"x"},{"calculate":"863-3.82*datum.i*25/30-27*datum.j/3-441*datum.p","as":"y"}],
"mark":{"type":"line","stroke":"#000","strokeWidth":1.5,"strokeJoin":"miter"},
"encoding":{"x":{"field":"x","type":"quantitative","scale":{"domain":[0,1171],"nice":false,"zero":false},"axis":null},"y":{"field":"y","type":"quantitative","scale":{"domain":[949,0],"nice":false,"zero":false},"axis":null},"detail":{"field":"q","type":"nominal"},"order":{"field":"c","type":"quantitative"},"fill":{"field":"v","type":"quantitative","scale":{"domain":[0,1],"range":["#ff0000","#ffff00"],"interpolate":"rgb"},"legend":null}}},
{"data":{"name":"mesh"},"transform":[{"calculate":"[0,2]","as":"cs"},{"flatten":["cs"],"as":["c"]},{"calculate":"datum.i-(datum.c==2?1:0)","as":"qi"},{"calculate":"datum.j-(datum.c==2?1:0)","as":"qj"},{"filter":"datum.qi>=0&&datum.qi<30&&datum.qj>=0&&datum.qj<30"},{"calculate":"datum.qi*100+datum.qj","as":"q"},{"calculate":"375+30.28*datum.i*25/30-26.8*datum.j/3","as":"x"},{"calculate":"863-3.82*datum.i*25/30-27*datum.j/3-441*datum.p","as":"y"}],
"mark":{"type":"line","stroke":"#fff","strokeWidth":0.7,"strokeOpacity":0.35,"strokeDash":[3,2]},
"encoding":{"x":{"field":"x","type":"quantitative","scale":{"domain":[0,1171],"nice":false,"zero":false},"axis":null},"y":{"field":"y","type":"quantitative","scale":{"domain":[949,0],"nice":false,"zero":false},"axis":null},"detail":{"field":"q","type":"nominal"},"order":{"field":"c","type":"quantitative"}}},
{"data":{"name":"thin"},"transform":[{"calculate":"375+30.28*datum.d-26.8*datum.t","as":"x"},{"calculate":"863-3.82*datum.d-27*datum.t-441*datum.p","as":"y"}],
"mark":{"type":"line","stroke":"#000","strokeWidth":1.2},
"encoding":{"x":{"field":"x","type":"quantitative","scale":{"domain":[0,1171],"nice":false,"zero":false},"axis":null},"y":{"field":"y","type":"quantitative","scale":{"domain":[949,0],"nice":false,"zero":false},"axis":null},"detail":{"field":"s","type":"nominal"}}},
{"data":{"name":"thick"},"transform":[{"calculate":"375+30.28*datum.d-26.8*datum.t","as":"x"},{"calculate":"863-3.82*datum.d-27*datum.t-441*datum.p","as":"y"}],
"mark":{"type":"line","stroke":"#000","strokeWidth":2},
"encoding":{"x":{"field":"x","type":"quantitative","scale":{"domain":[0,1171],"nice":false,"zero":false},"axis":null},"y":{"field":"y","type":"quantitative","scale":{"domain":[949,0],"nice":false,"zero":false},"axis":null},"detail":{"field":"s","type":"nominal"}}},
{"data":{"name":"plabels"},"transform":[{"calculate":"375+30.28*datum.d-26.8*datum.t","as":"x"},{"calculate":"863-3.82*datum.d-27*datum.t-441*datum.p","as":"y"}],
"mark":{"type":"text","font":"Liberation Sans","fontSize":31,"color":"#000","align":"right","baseline":"middle","dx":-20,"dy":-17},
"encoding":{"x":{"field":"x","type":"quantitative","scale":{"domain":[0,1171],"nice":false,"zero":false},"axis":null},"y":{"field":"y","type":"quantitative","scale":{"domain":[949,0],"nice":false,"zero":false},"axis":null},"text":{"field":"label","type":"nominal"}}},
{"data":{"name":"blabels"},"transform":[{"calculate":"375+30.28*datum.d-26.8*datum.t","as":"x"},{"calculate":"863-3.82*datum.d-27*datum.t-441*datum.p","as":"y"}],
"mark":{"type":"text","font":"Liberation Sans","fontSize":31,"color":"#000","align":"center","baseline":"middle","dy":48},
"encoding":{"x":{"field":"x","type":"quantitative","scale":{"domain":[0,1171],"nice":false,"zero":false},"axis":null},"y":{"field":"y","type":"quantitative","scale":{"domain":[949,0],"nice":false,"zero":false},"axis":null},"text":{"field":"label","type":"nominal"}}},
{"data":{"name":"atitles"},"transform":[{"calculate":"375+30.28*datum.d-26.8*datum.t","as":"x"},{"calculate":"863-3.82*datum.d-27*datum.t-441*datum.p","as":"y"}],
"mark":{"type":"text","font":"Liberation Sans","fontSize":31.4,"color":"#000","align":"center","baseline":"middle"},
"encoding":{"x":{"field":"x","type":"quantitative","scale":{"domain":[0,1171],"nice":false,"zero":false},"axis":null},"y":{"field":"y","type":"quantitative","scale":{"domain":[949,0],"nice":false,"zero":false},"axis":null},"text":{"field":"label","type":"nominal"}}}
]}
